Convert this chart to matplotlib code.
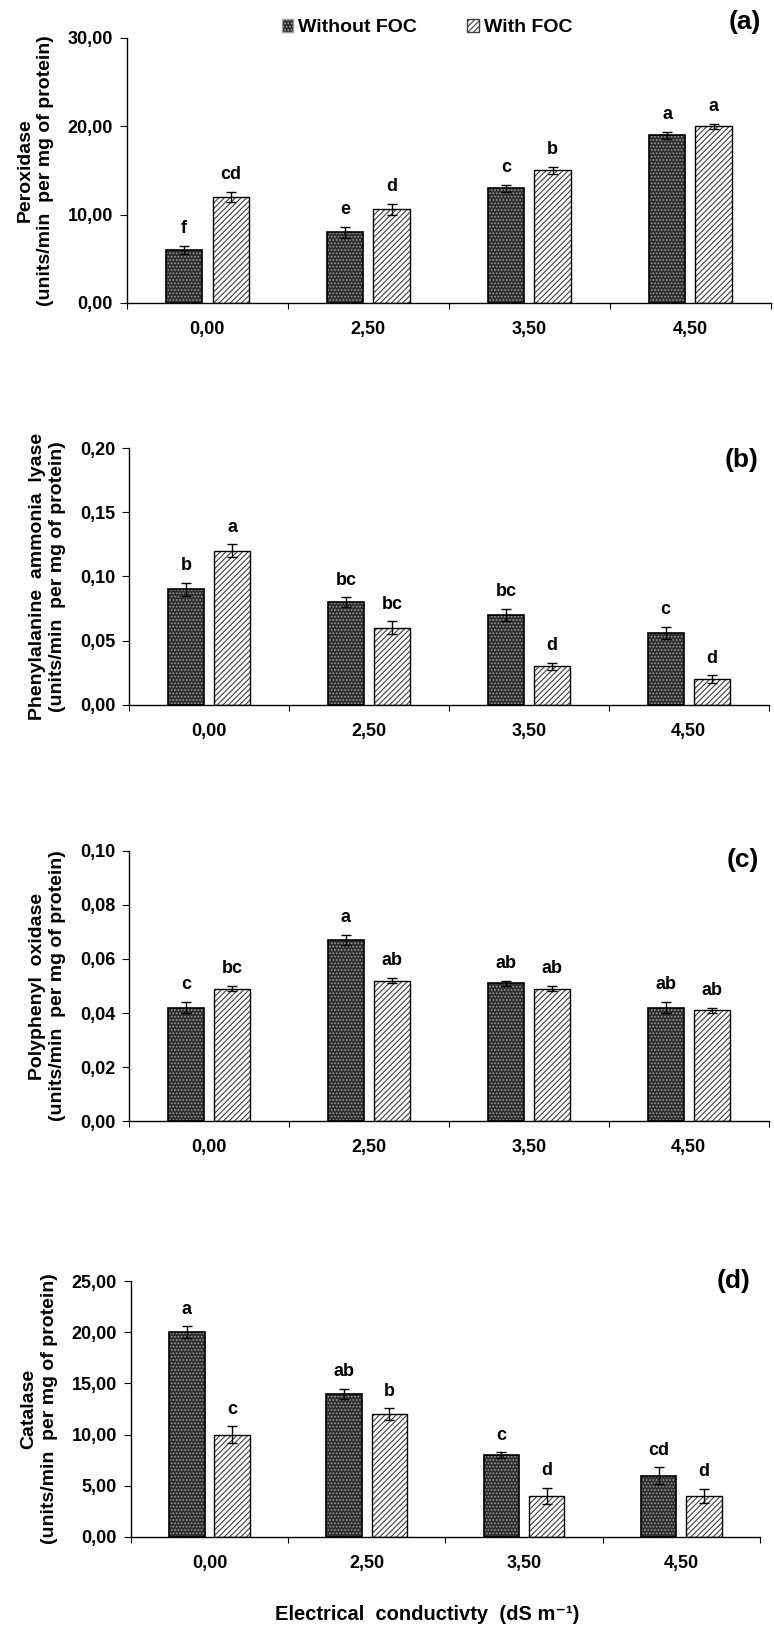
import numpy as np
import matplotlib.pyplot as plt
from matplotlib.patches import Patch

plt.rcParams['font.family'] = ['Liberation Sans', 'DejaVu Sans']
plt.rcParams['font.weight'] = 'bold'
plt.rcParams['hatch.linewidth'] = 0.8

ec_levels = ['0,00', '2,50', '3,50', '4,50']
series = ['Without FOC', 'With FOC']

# peroxidase (a)
pod_without = [6.0, 8.0, 13.0, 19.0]
pod_with = [12.0, 10.6, 15.0, 20.0]
pod_err_without = [0.5, 0.6, 0.4, 0.4]
pod_err_with = [0.6, 0.6, 0.4, 0.3]
pod_let_without = ['f', 'e', 'c', 'a']
pod_let_with = ['cd', 'd', 'b', 'a']

# phenylalanine ammonia lyase (b)
pal_without = [0.090, 0.080, 0.070, 0.056]
pal_with = [0.120, 0.060, 0.030, 0.020]
pal_err_without = [0.005, 0.004, 0.005, 0.005]
pal_err_with = [0.005, 0.005, 0.003, 0.003]
pal_let_without = ['b', 'bc', 'bc', 'c']
pal_let_with = ['a', 'bc', 'd', 'd']

# polyphenyl oxidase (c)
ppo_without = [0.042, 0.067, 0.051, 0.042]
ppo_with = [0.049, 0.052, 0.049, 0.041]
ppo_err_without = [0.002, 0.002, 0.001, 0.002]
ppo_err_with = [0.001, 0.001, 0.001, 0.001]
ppo_let_without = ['c', 'a', 'ab', 'ab']
ppo_let_with = ['bc', 'ab', 'ab', 'ab']

# catalase (d)
cat_without = [20.0, 14.0, 8.0, 6.0]
cat_with = [10.0, 12.0, 4.0, 4.0]
cat_err_without = [0.6, 0.5, 0.3, 0.8]
cat_err_with = [0.8, 0.6, 0.8, 0.7]
cat_let_without = ['a', 'ab', 'c', 'cd']
cat_let_with = ['c', 'b', 'd', 'd']

panels = [
    ('Peroxidase', pod_without, pod_with, pod_err_without, pod_err_with,
     pod_let_without, pod_let_with, 30, 10, '(a)'),
    ('Phenylalanine  ammonia  lyase', pal_without, pal_with, pal_err_without, pal_err_with,
     pal_let_without, pal_let_with, 0.20, 0.05, '(b)'),
    ('Polyphenyl  oxidase', ppo_without, ppo_with, ppo_err_without, ppo_err_with,
     ppo_let_without, ppo_let_with, 0.10, 0.02, '(c)'),
    ('Catalase', cat_without, cat_with, cat_err_without, cat_err_with,
     cat_let_without, cat_let_with, 25, 5, '(d)'),
]

# axes boxes [left, bottom, width, height] in figure fractions
boxes = [
    [0.164, 0.8139, 0.832, 0.1628],
    [0.167, 0.5670, 0.826, 0.1578],
    [0.167, 0.3114, 0.826, 0.1659],
    [0.169, 0.0559, 0.813, 0.1572],
]
tag_y = [1.06, 0.953, 0.967, 1.0]

fig = plt.figure(figsize=(7.74, 16.28), dpi=100)

x = np.arange(len(ec_levels)) + 0.5
w = 0.225
off = 0.144

for box, ty, (name, v1, v2, e1, e2, l1, l2, ymax, step, tag) in zip(boxes, tag_y, panels):
    ax = fig.add_axes(box)
    # dark dotted bars
    ax.bar(x - off, v1, w, color='#2e2e2e', edgecolor='#9a9a9a', hatch='.....', linewidth=0)
    ax.bar(x - off, v1, w, fill=False, edgecolor='black', linewidth=1.2)
    # light striped bars
    ax.bar(x + off, v2, w, color='white', edgecolor='#404040', hatch='//////', linewidth=0)
    ax.bar(x + off, v2, w, fill=False, edgecolor='black', linewidth=1.0)
    ax.errorbar(x - off, v1, yerr=e1, fmt='none', ecolor='black', elinewidth=1, capsize=3.5, capthick=1)
    ax.errorbar(x + off, v2, yerr=e2, fmt='none', ecolor='black', elinewidth=1, capsize=3.5, capthick=1)
    pad = ymax * 0.033
    for xi, v, e, t in zip(x - off, v1, e1, l1):
        ax.text(xi, v + e + pad, t, ha='center', va='bottom', fontsize=13, fontweight='bold')
    for xi, v, e, t in zip(x + off, v2, e2, l2):
        ax.text(xi, v + e + pad, t, ha='center', va='bottom', fontsize=13, fontweight='bold')

    ax.set_xlim(0, 4)
    ax.set_ylim(0, ymax)
    ax.set_yticks(np.arange(0, ymax + step / 2, step))
    ax.set_yticklabels([f'{t:.2f}'.replace('.', ',') for t in ax.get_yticks()])
    ax.set_xticks([0, 1, 2, 3, 4])
    ax.set_xticklabels([])
    ax.set_xticks(x, minor=True)
    ax.set_xticklabels(ec_levels, minor=True)
    ax.tick_params(axis='x', which='minor', length=0, pad=13, labelsize=13)
    ax.tick_params(axis='x', which='major', length=4, direction='out')
    ax.tick_params(axis='y', length=5, direction='out', labelsize=13, pad=5)
    for lab in ax.get_xticklabels(minor=True) + ax.get_yticklabels():
        lab.set_fontweight('bold')
    for s in ['top', 'right']:
        ax.spines[s].set_visible(False)
    ax.spines['left'].set_linewidth(1)
    ax.spines['bottom'].set_linewidth(1)
    ax.set_ylabel(name + '\n(units/min  per mg of protein)', fontsize=14,
                  fontweight='bold', labelpad=10, linespacing=1.25)
    ax.text(0.985, ty, tag, transform=ax.transAxes, ha='right',
            va='center', fontsize=19, fontweight='bold')

    if tag == '(a)':
        handles = [Patch(facecolor='#2e2e2e', edgecolor='#9a9a9a', hatch='.....'),
                   Patch(facecolor='white', edgecolor='#404040', hatch='//////')]
        ax.legend(handles, series, loc='center', bbox_to_anchor=(0.466, 1.038), ncol=2,
                  frameon=False, handlelength=0.6, handleheight=0.6,
                  handletextpad=0.25, columnspacing=2.6, prop={'weight': 'bold', 'size': 14})

fig.text(0.552, 0.008, 'Electrical  conductivty  (dS m\u207b\u00b9)', ha='center',
         va='center', fontsize=14.5, fontweight='bold')

fig.savefig('out.png', dpi=100)
